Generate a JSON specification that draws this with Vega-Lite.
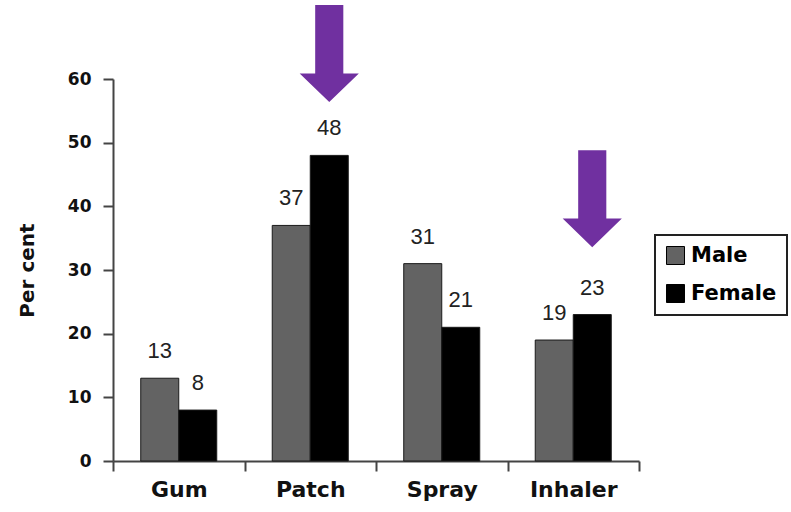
{
  "$schema": "https://vega.github.io/schema/vega-lite/v6.json",
  "width": 526,
  "height": 382,
  "autosize": {"type": "none"},
  "padding": {"left": 113, "top": 79, "right": 152, "bottom": 51},
  "background": "white",
  "config": {
    "view": {"stroke": null},
    "font": "Liberation Sans",
    "legend": {
      "orient": "none",
      "legendX": 542,
      "legendY": 156,
      "strokeColor": "#222222",
      "strokeWidth": 2,
      "padding": 10,
      "symbolType": "square",
      "symbolSize": 324,
      "symbolStrokeColor": "#000000",
      "symbolStrokeWidth": 1,
      "symbolOpacity": 1,
      "labelFont": "DejaVu Sans",
      "labelFontSize": 21,
      "labelFontWeight": "bold",
      "labelColor": "#000000",
      "labelOffset": 5,
      "rowPadding": 15
    }
  },
  "datasets": {
    "bars": [
      {"category": "Gum", "sex": "Male", "value": 13},
      {"category": "Gum", "sex": "Female", "value": 8},
      {"category": "Patch", "sex": "Male", "value": 37},
      {"category": "Patch", "sex": "Female", "value": 48},
      {"category": "Spray", "sex": "Male", "value": 31},
      {"category": "Spray", "sex": "Female", "value": 21},
      {"category": "Inhaler", "sex": "Male", "value": 19},
      {"category": "Inhaler", "sex": "Female", "value": 23}
    ],
    "arrows": [
      {"category": "Patch", "sex": "Female", "pos": 64},
      {"category": "Inhaler", "sex": "Female", "pos": 41.2}
    ]
  },
  "layer": [
    {
      "data": {"name": "bars"},
      "mark": {"type": "bar", "stroke": "#1a1a1a", "strokeWidth": 1},
      "encoding": {
        "x": {
          "field": "category", "type": "nominal",
          "sort": ["Gum", "Patch", "Spray", "Inhaler"],
          "scale": {"paddingInner": 0, "paddingOuter": 0},
          "axis": {
            "title": null, "labelAngle": 0,
            "labelFont": "DejaVu Sans", "labelFontSize": 22, "labelFontWeight": "bold", "labelColor": "#111111",
            "tickBand": "extent", "tickSize": 10, "tickColor": "#444444", "tickWidth": 2,
            "domainColor": "#444444", "domainWidth": 2, "labelPadding": 8
          }
        },
        "xOffset": {
          "field": "sex", "type": "nominal",
          "scale": {"domain": ["Male", "Female"], "paddingInner": 0, "paddingOuter": 0.73}
        },
        "y": {
          "field": "value", "type": "quantitative",
          "scale": {"domain": [0, 60], "nice": false},
          "axis": {
            "title": "Per cent", "titleFont": "DejaVu Sans", "titleFontSize": 20, "titleFontWeight": "bold", "titleColor": "#111111", "titlePadding": 30,
            "values": [0, 10, 20, 30, 40, 50, 60], "grid": false,
            "labelFont": "DejaVu Sans", "labelFontSize": 17, "labelFontWeight": "bold", "labelColor": "#111111", "labelPadding": 12,
            "tickSize": 10, "tickColor": "#444444", "tickWidth": 2,
            "domainColor": "#444444", "domainWidth": 2
          }
        },
        "color": {
          "field": "sex", "type": "nominal",
          "scale": {"domain": ["Male", "Female"], "range": ["#636363", "#000000"]},
          "legend": {"title": null}
        }
      }
    },
    {
      "data": {"name": "bars"},
      "mark": {"type": "text", "baseline": "alphabetic", "align": "center", "dy": -20, "fontSize": 22, "font": "Liberation Sans", "color": "#222222"},
      "encoding": {
        "x": {"field": "category", "type": "nominal", "sort": ["Gum", "Patch", "Spray", "Inhaler"]},
        "xOffset": {"field": "sex", "type": "nominal"},
        "y": {"field": "value", "type": "quantitative", "axis": {"title": "Per cent"}},
        "text": {"field": "value", "type": "quantitative"}
      }
    },
    {
      "data": {"name": "arrows"},
      "mark": {
        "type": "point", "filled": true, "opacity": 1, "color": "#7030A0", "strokeWidth": 0,
        "size": 9409,
        "shape": "M-0.29,-1 L0.29,-1 L0.29,0.41 L0.61,0.41 L0,1 L-0.61,0.41 L-0.29,0.41 Z"
      },
      "encoding": {
        "x": {"field": "category", "type": "nominal", "sort": ["Gum", "Patch", "Spray", "Inhaler"]},
        "xOffset": {"field": "sex", "type": "nominal"},
        "y": {"field": "pos", "type": "quantitative", "axis": {"title": "Per cent"}}
      }
    }
  ]
}
